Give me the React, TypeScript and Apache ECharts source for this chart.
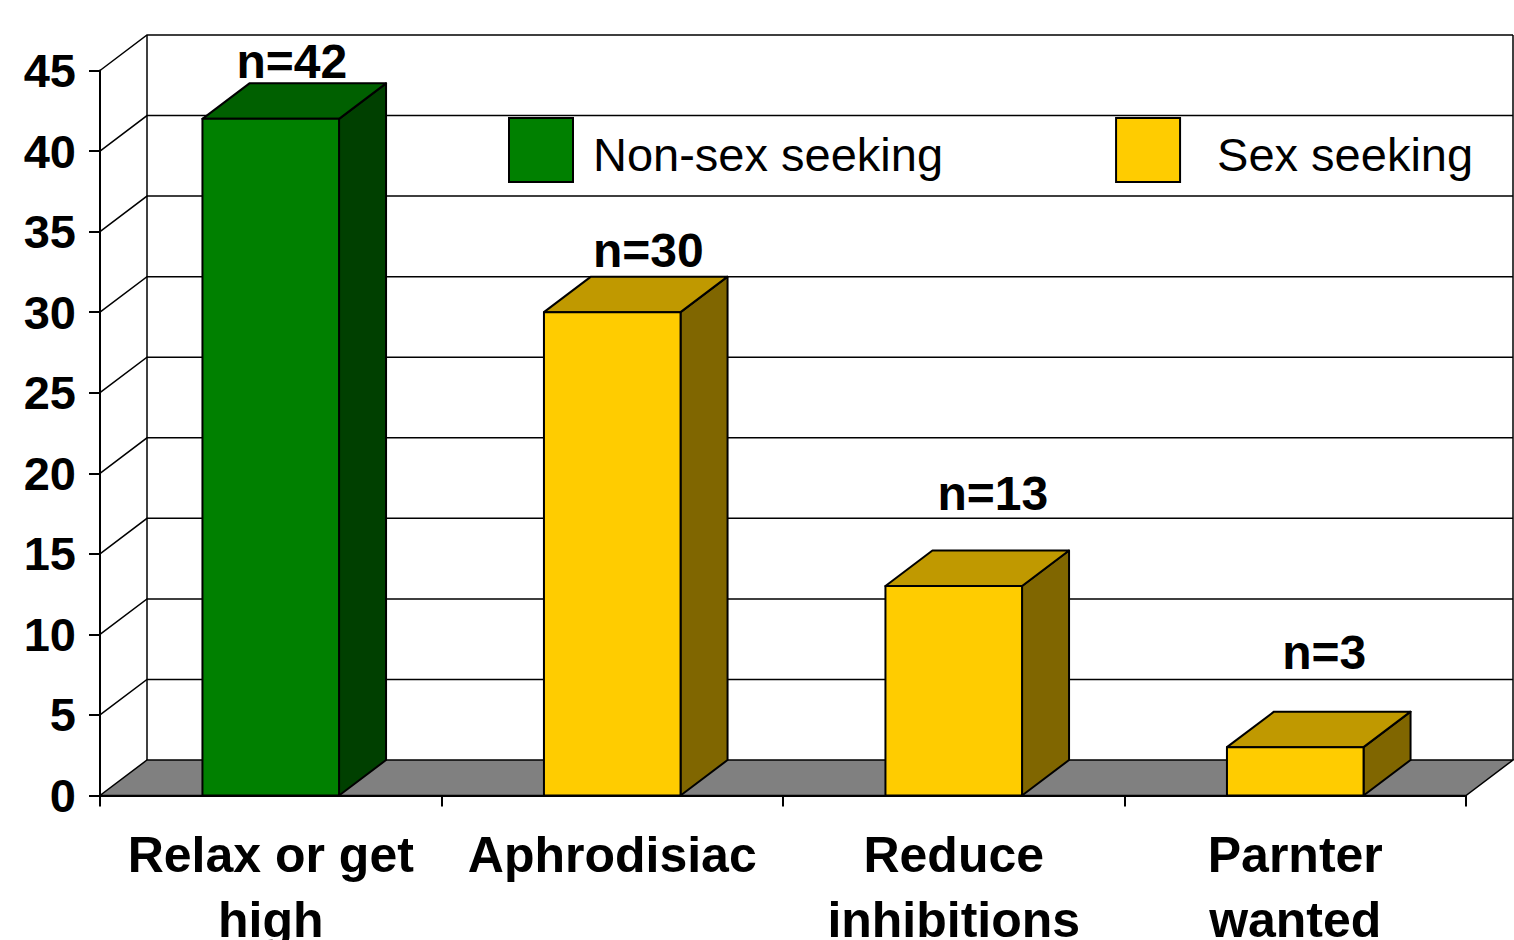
import React, { useEffect, useRef } from 'react';
import * as echarts from 'echarts';

const categories = ['Relax or get\nhigh', 'Aphrodisiac', 'Reduce\ninhibitions', 'Parnter\nwanted'];
const values = [42, 30, 13, 3];
const groups = ['Non-sex seeking', 'Sex seeking', 'Sex seeking', 'Sex seeking'];
const seriesNames = ['Non-sex seeking', 'Sex seeking'];
const valueLabels = ['n=42', 'n=30', 'n=13', 'n=3'];
const yTicks = [0, 5, 10, 15, 20, 25, 30, 35, 40, 45];

const FONT = '"Liberation Sans", Arial, sans-serif';
const DX = 47;
const DY = 35.5;
// per-label placement tweaks (px): [shift right of bar centre, lift above bar back-top]
const labelShiftX = [21, 36, 39, 29];
const labelLift = [22, 26, 57, 59];
// legend text gap per item (px)
const legendTextGap = [15, 32];

const palette: Record<string, { front: string; top: string; side: string }> = {
  'Non-sex seeking': { front: '#008000', top: '#006000', side: '#004000' },
  'Sex seeking': { front: '#FFCC00', top: '#C09900', side: '#806600' },
};

function buildOption() {
  const wallSeries = {
    type: 'custom',
    name: 'walls',
    z: 1,
    silent: true,
    data: yTicks.map((v) => [0, v]),
    encode: { x: 0, y: 1 },
    renderItem: (params: any, api: any) => {
      const cs = params.coordSys;
      const v = api.value(1);
      const y = api.coord([0, v])[1];
      const x0 = cs.x;
      const x1 = cs.x + cs.width;
      const children: any[] = [];
      if (v === 0) {
        children.push({
          type: 'polygon',
          shape: { points: [[x0, y], [x1, y], [x1 + DX, y - DY], [x0 + DX, y - DY]] },
          style: { fill: '#808080', stroke: '#000', lineWidth: 1.5 },
        });
      } else {
        children.push({
          type: 'polyline',
          shape: { points: [[x0, y], [x0 + DX, y - DY], [x1 + DX, y - DY]] },
          style: { fill: null, stroke: '#000', lineWidth: 1.5 },
        });
      }
      if (v === yTicks[yTicks.length - 1]) {
        const yb = api.coord([0, 0])[1];
        children.push({
          type: 'line',
          shape: { x1: x0 + DX, y1: y - DY, x2: x0 + DX, y2: yb - DY },
          style: { stroke: '#000', lineWidth: 1.5 },
        });
        children.push({
          type: 'line',
          shape: { x1: x1 + DX, y1: y - DY, x2: x1 + DX, y2: yb - DY },
          style: { stroke: '#000', lineWidth: 1.5 },
        });
      }
      return { type: 'group', children };
    },
  };

  const barSeries = seriesNames.map((name) => ({
    type: 'custom',
    name,
    z: 3,
    itemStyle: { color: palette[name].front, borderColor: '#000', borderWidth: 2 },
    data: values
      .map((v, i) => (groups[i] === name ? [i, v] : null))
      .filter((d) => d !== null),
    encode: { x: 0, y: 1 },
    renderItem: (params: any, api: any) => {
      const i = api.value(0);
      const v = api.value(1);
      const [cx, yTop] = api.coord([i, v]);
      const yBase = api.coord([i, 0])[1];
      const w = api.size([1, 0])[0] * 0.4;
      const xl = cx - w / 2;
      const xr = cx + w / 2;
      const c = palette[name];
      const st = { stroke: '#000', lineWidth: 2, lineJoin: 'round' };
      return {
        type: 'group',
        children: [
          {
            type: 'polygon',
            shape: { points: [[xr, yBase], [xr + DX, yBase - DY], [xr + DX, yTop - DY], [xr, yTop]] },
            style: { ...st, fill: c.side },
          },
          {
            type: 'polygon',
            shape: { points: [[xl, yTop], [xr, yTop], [xr + DX, yTop - DY], [xl + DX, yTop - DY]] },
            style: { ...st, fill: c.top },
          },
          {
            type: 'polygon',
            shape: { points: [[xl, yBase], [xr, yBase], [xr, yTop], [xl, yTop]] },
            style: { ...st, fill: c.front },
          },
          {
            type: 'text',
            style: {
              text: valueLabels[i],
              x: cx + labelShiftX[i],
              y: yTop - DY - labelLift[i],
              align: 'center',
              verticalAlign: 'middle',
              fill: '#000',
              font: `bold 48px ${FONT}`,
            },
          },
        ],
      };
    },
  }));

  return {
    animation: false,
    backgroundColor: '#fff',
    textStyle: { fontFamily: FONT },
    grid: {
      left: 100,
      top: 70.5,
      width: 1366,
      height: 725,
      containLabel: false,
      outerBoundsMode: 'none',
    },
    legend: {
      data: seriesNames.map((n, k) => ({
        name: n,
        icon: 'rect',
        itemStyle: { color: palette[n].front, borderColor: '#000', borderWidth: 2 },
        textStyle: {
          fontSize: 47,
          color: '#000',
          fontFamily: FONT,
          padding: [0, 0, 0, legendTextGap[k]],
          rich: {
            t: { fontSize: 47, color: '#000', fontFamily: FONT, padding: [9, 0, 0, 0] },
          },
        },
      })),
      formatter: '{t|{name}}',
      left: 508,
      top: 117,
      padding: 0,
      itemWidth: 64,
      itemHeight: 64,
      itemGap: 172,
      selectedMode: false,
      textStyle: { fontSize: 47, color: '#000', fontFamily: FONT },
    },
    xAxis: {
      type: 'category',
      data: categories,
      boundaryGap: true,
      axisLine: { show: true, lineStyle: { color: '#000', width: 2 } },
      axisTick: { show: true, length: 11, alignWithLabel: false, lineStyle: { color: '#000', width: 2 } },
      axisLabel: {
        interval: 0,
        color: '#000',
        fontSize: 50,
        fontWeight: 'bold',
        fontFamily: FONT,
        lineHeight: 65,
        margin: 27,
      },
      splitLine: { show: false },
    },
    yAxis: {
      type: 'value',
      min: 0,
      max: 45,
      interval: 5,
      axisLine: { show: true, lineStyle: { color: '#000', width: 2 } },
      axisTick: { show: true, length: 11, lineStyle: { color: '#000', width: 2 } },
      axisLabel: { color: '#000', fontSize: 47, fontWeight: 'bold', fontFamily: FONT, margin: 24 },
      splitLine: { show: false },
    },
    series: [wallSeries, ...barSeries],
  };
}

export default function App() {
  const ref = useRef<HTMLDivElement>(null);
  useEffect(() => {
    if (!ref.current) return;
    const chart = echarts.init(ref.current, undefined, { renderer: 'svg' });
    chart.setOption(buildOption() as any);
    return () => chart.dispose();
  }, []);
  return (
    <div
      ref={ref}
      style={{ position: 'absolute', left: 0, top: 0, width: 1514, height: 940, background: '#fff' }}
    />
  );
}
